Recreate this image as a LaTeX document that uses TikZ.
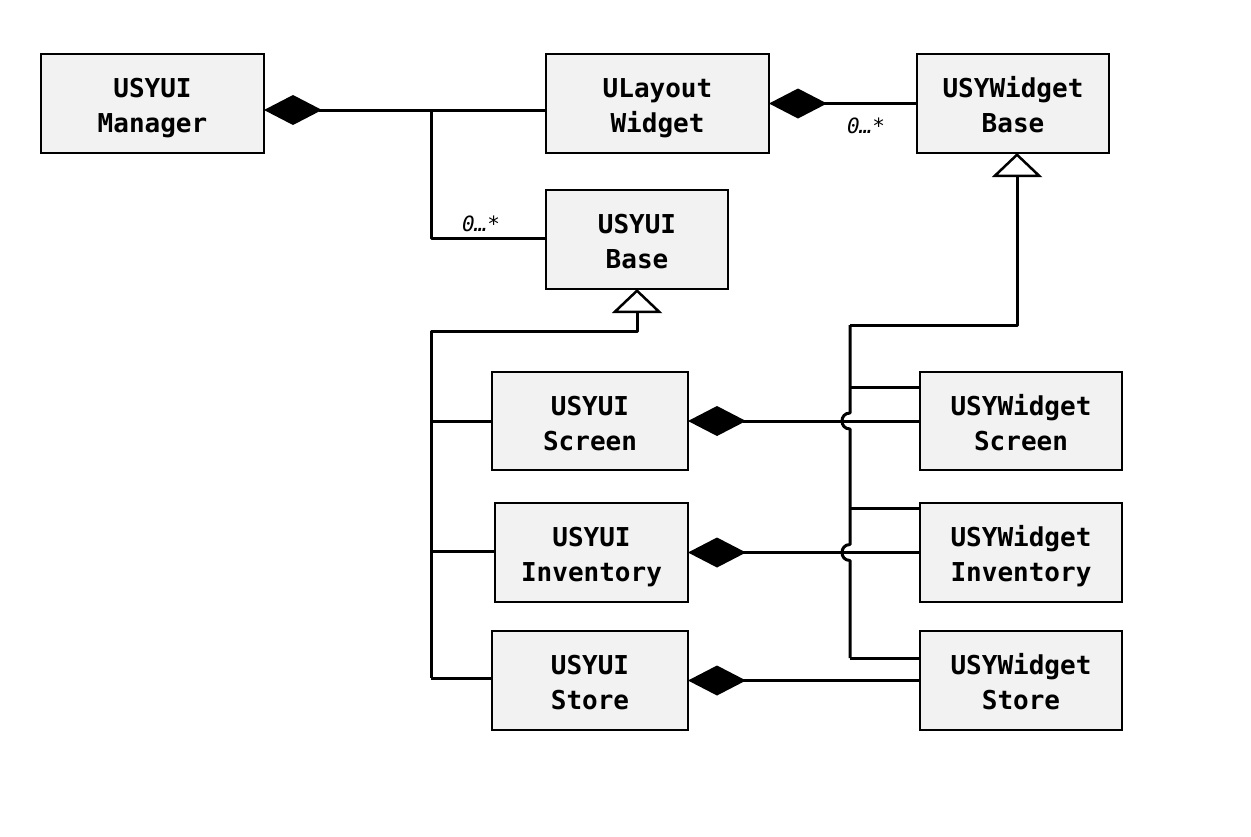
\documentclass[tikz,border=0pt]{standalone}
\usepackage{fontspec}
\setmonofont{DejaVu Sans Mono}
\usetikzlibrary{arrows.meta}
\definecolor{boxfill}{HTML}{F2F2F2}
\newcommand{\cltxt}[2]{\rule{0pt}{30pt}#1\\#2\rule[-7pt]{0pt}{7pt}}
\tikzset{
  cls/.style={draw=black, line width=2.2pt, fill=boxfill, align=center, inner sep=0pt, outer sep=0pt,
    font=\fontsize{26}{35}\selectfont\ttfamily\bfseries},
  conn/.style={line width=3pt, line join=round},
  comp/.style={conn, {Diamond[length=58pt, width=30pt, fill=black, line width=0pt]}-},
  inh/.style={conn, -{Triangle[open, length=24pt, width=50pt, fill=white, line width=2.5pt]}},
  mult/.style={font=\fontsize{21}{21}\selectfont\ttfamily\itshape}
}
\begin{document}
\begin{tikzpicture}[x=1pt, y=-1pt]
\useasboundingbox (0,0) rectangle (1251,836);
% classes
\node[cls, minimum width=223pt, minimum height=99pt] (mgr) at (152.5,103.5) {\cltxt{USYUI}{Manager}};
\node[cls, minimum width=223pt, minimum height=99pt] (ulw) at (657.5,103.5) {\cltxt{ULayout}{Widget}};
\node[cls, minimum width=192pt, minimum height=99pt] (wbase) at (1013,103.5) {\cltxt{USYWidget}{Base}};
\node[cls, minimum width=182pt, minimum height=99pt] (uibase) at (637,239.5) {\cltxt{USYUI}{Base}};
\node[cls, minimum width=196pt, minimum height=98pt] (uiscr) at (590,421) {\cltxt{USYUI}{Screen}};
\node[cls, minimum width=193pt, minimum height=99pt] (uiinv) at (591.5,552.5) {\cltxt{USYUI}{Inventory}};
\node[cls, minimum width=196pt, minimum height=99pt] (uisto) at (590,680.5) {\cltxt{USYUI}{Store}};
\node[cls, minimum width=202pt, minimum height=98pt] (wscr) at (1021,421) {\cltxt{USYWidget}{Screen}};
\node[cls, minimum width=202pt, minimum height=99pt] (winv) at (1021,552.5) {\cltxt{USYWidget}{Inventory}};
\node[cls, minimum width=202pt, minimum height=99pt] (wsto) at (1021,680.5) {\cltxt{USYWidget}{Store}};
% junction coordinates
\coordinate (j1) at (431,110);
\coordinate (lb) at (431,678);
\coordinate (rt) at (850,325);
\coordinate (rb) at (850,658);
% manager composition
\draw[comp] ([yshift=-6.5pt]mgr.east) -- ([yshift=-6.5pt]ulw.west);
\draw[conn] (j1) |- ([yshift=1.5pt]uibase.west);
\node[mult] (m1) at (481,224) {0…*};
% layout widget composition
\draw[comp] (ulw.east) -- (wbase.west);
\node[mult] (m2) at (866,126) {0…*};
% left inheritance tree
\draw[inh] (lb) |- ([yshift=-42pt]uibase.south) -- (uibase.south);
\draw[conn] (431,421) -- (uiscr.west);
\draw[conn] (431,551) -- ([yshift=1.5pt]uiinv.west);
\draw[conn] (lb) -- ([yshift=2.5pt]uisto.west);
% right inheritance tree
\draw[inh] (rt) -| ([xshift=4pt,yshift=-24pt]wbase.south) -- ([xshift=4pt]wbase.south);
\draw[conn] (rt) -- (850,413) .. controls (839.3,413) and (839.3,429) .. (850,429)
  -- (850,544.5) .. controls (839.3,544.5) and (839.3,560.5) .. (850,560.5) -- (rb);
\draw[conn] (850,387) -- (wscr.west |- 0,387);
\draw[conn] (850,508) -- (winv.west |- 0,508);
\draw[conn] (rb) -- (wsto.west |- 0,658);
% compositions
\draw[comp] (uiscr.east) -- (wscr.west);
\draw[comp] (uiinv.east) -- (winv.west);
\draw[comp] (uisto.east) -- (wsto.west);
\end{tikzpicture}
\end{document}
